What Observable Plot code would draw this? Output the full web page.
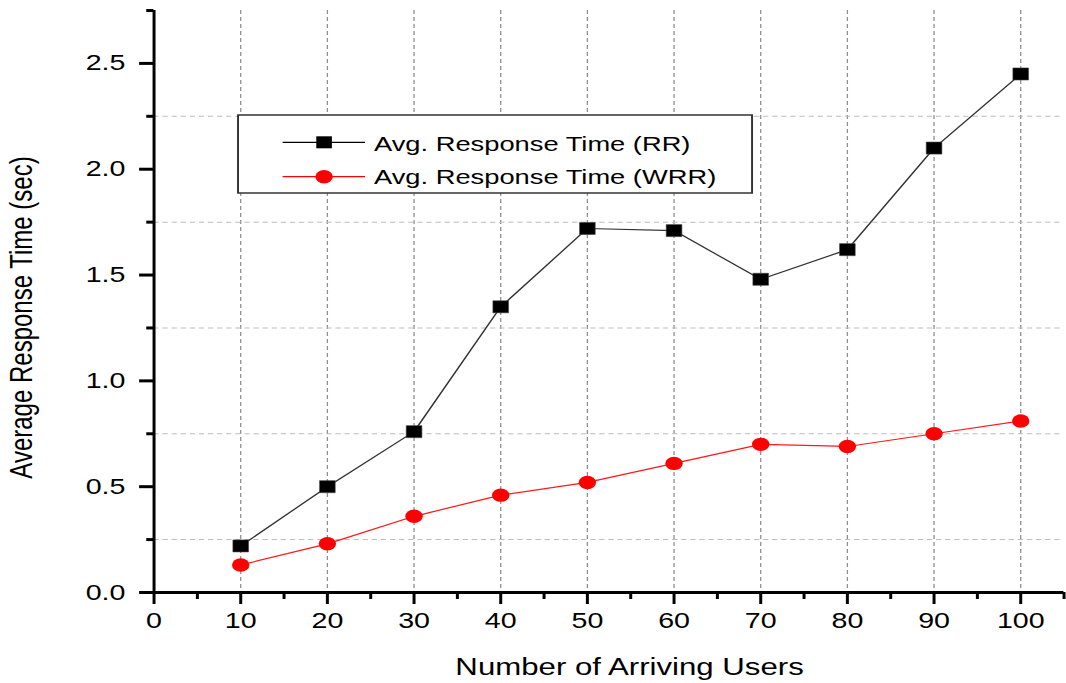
<!DOCTYPE html>
<html><head><meta charset="utf-8">
<script src="https://cdn.jsdelivr.net/npm/d3@7"></script>
<script src="https://cdn.jsdelivr.net/npm/@observablehq/plot@0.6"></script>
<style>
html,body{margin:0;padding:0;background:#fff;}
#chart{width:1066px;height:683px;overflow:hidden;}
</style></head><body><div id="chart"></div>
<script>
const users = [10, 20, 30, 40, 50, 60, 70, 80, 90, 100];
const rrTime = [0.22, 0.50, 0.76, 1.35, 1.72, 1.71, 1.48, 1.62, 2.10, 2.45];
const wrrTime = [0.13, 0.23, 0.36, 0.46, 0.52, 0.61, 0.70, 0.69, 0.75, 0.81];
const seriesNames = ["Avg. Response Time (RR)", "Avg. Response Time (WRR)"];
const xMajorTicks = [0, 10, 20, 30, 40, 50, 60, 70, 80, 90, 100];
const xMinorTicks = [5, 15, 25, 35, 45, 55, 65, 75, 85, 95, 105];
const yMajorTicks = [0, 0.5, 1.0, 1.5, 2.0, 2.5];
const yMinorTicks = [0.25, 0.75, 1.25, 1.75, 2.25, 2.75];
const xLabel = "Number of Arriving Users";
const yLabel = "Average Response Time (sec)";

const rr = users.map((u, i) => ({users: u, time: rrTime[i]}));
const wrr = users.map((u, i) => ({users: u, time: wrrTime[i]}));

const W = 820, H = 683, OUTW = 1066;
const font = "'Liberation Sans', Arial, sans-serif";

const plot = Plot.plot({
  width: W, height: H,
  marginLeft: 118, marginRight: 2, marginTop: 10, marginBottom: 91,
  style: {fontFamily: font, background: "#fff", color: "#000"},
  x: {domain: [0, 105]},
  y: {domain: [0, 2.75]},
  marks: [
    Plot.gridX(xMajorTicks.filter(d => d > 0), {stroke: "#8f8f8f", strokeOpacity: 1, strokeDasharray: "4,3", strokeWidth: 1}),
    Plot.gridY(yMinorTicks.filter(d => d < 2.75), {stroke: "#bdbdbd", strokeOpacity: 1, strokeDasharray: "4,3", strokeWidth: 1}),
    Plot.axisX({ticks: xMajorTicks, tickSize: 12, tickPadding: 8, fontSize: 22, strokeWidth: 2.3, label: null, tickFormat: d => String(d)}),
    Plot.axisX({ticks: xMinorTicks, tickSize: 7, strokeWidth: 2.3, label: null, tickFormat: () => ""}),
    Plot.axisY({ticks: yMajorTicks, tickSize: 11, tickPadding: 11, fontSize: 22, strokeWidth: 3, label: null, tickFormat: d3.format(".1f")}),
    Plot.axisY({ticks: yMinorTicks, tickSize: 5.5, strokeWidth: 3, label: null, tickFormat: () => ""}),
    Plot.ruleX([0], {stroke: "#000", strokeWidth: 2.3}),
    Plot.ruleY([0], {stroke: "#000", strokeWidth: 3}),
    Plot.line(rr, {x: "users", y: "time", stroke: "#333", strokeWidth: 1.2}),
    Plot.dot(rr, {x: "users", y: "time", symbol: "square", r: 6.8, fill: "#000", stroke: "#444", strokeWidth: 0.5}),
    Plot.line(wrr, {x: "users", y: "time", stroke: "#ff1a1a", strokeWidth: 1.2}),
    Plot.dot(wrr, {x: "users", y: "time", symbol: "circle", r: 6.7, fill: "#ff0000", stroke: "none"}),
    Plot.text([xLabel], {text: d => d, frameAnchor: "bottom", dx: 15.8, dy: 74.5, fontSize: 24, lineAnchor: "middle", fill: "#000"}),
    Plot.text([yLabel], {text: d => d, frameAnchor: "left", rotate: -90, dx: -101.5, dy: 16, fontSize: 24, lineAnchor: "middle", textAnchor: "middle", fill: "#000"})
  ]
});

// Legend (in plot coordinates)
const svg = d3.select(plot);
const lg = svg.append("g").attr("font-family", font).attr("font-size", 21).attr("text-anchor", "start");
lg.append("rect").attr("x", 183.1).attr("y", 115).attr("width", 395.4).attr("height", 78)
  .attr("fill", "#fff").attr("stroke", "#333").attr("stroke-width", 1.5);
const rows = [
  {name: seriesNames[0], y: 142.3, base: 150.7, color: "#000", sym: "square"},
  {name: seriesNames[1], y: 176.7, base: 184.3, color: "#ff0000", sym: "circle"}
];
rows.forEach(r => {
  lg.append("line").attr("x1", 217.4).attr("x2", 280.8).attr("y1", r.y).attr("y2", r.y)
    .attr("stroke", r.color).attr("stroke-width", 1.2);
  if (r.sym === "square") {
    lg.append("rect").attr("x", 249.3 - 6).attr("y", r.y - 6).attr("width", 12).attr("height", 12).attr("fill", "#000");
  } else {
    lg.append("circle").attr("cx", 249.3).attr("cy", r.y).attr("r", 6.7).attr("fill", "#ff0000");
  }
  lg.append("text").attr("x", 287.7).attr("y", r.base).attr("fill", "#000").attr("text-anchor", "start").text(r.name);
});

// Stretch horizontally like the reference
plot.setAttribute("width", OUTW);
plot.setAttribute("height", H);
plot.setAttribute("preserveAspectRatio", "none");
plot.style.width = OUTW + "px";
plot.style.height = H + "px";
plot.style.maxWidth = "none";
document.getElementById("chart").appendChild(plot);
</script></body></html>
